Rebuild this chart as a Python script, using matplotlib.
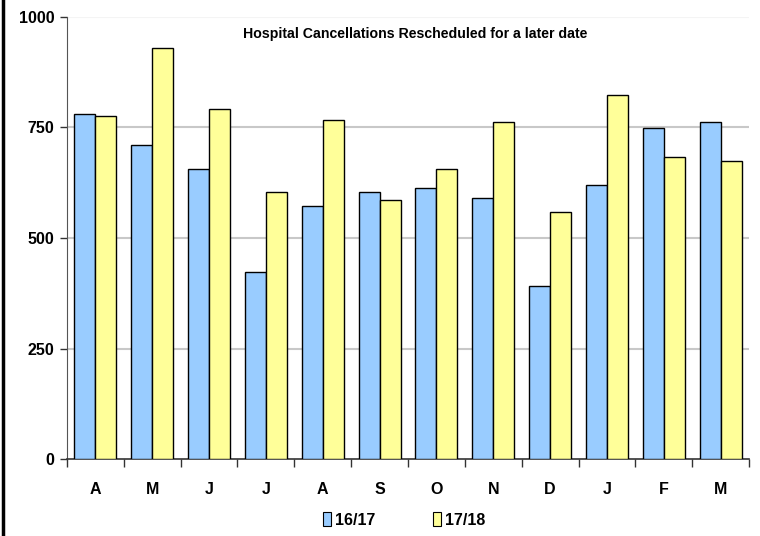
import matplotlib
matplotlib.use("Agg")
import matplotlib.pyplot as plt
import numpy as np
from matplotlib.patches import Patch
from matplotlib.lines import Line2D

months = ["A", "M", "J", "J", "A", "S", "O", "N", "D", "J", "F", "M"]
series_names = ["16/17", "17/18"]
vals_1617 = [781, 711, 655, 423, 572, 604, 614, 590, 391, 619, 749, 762]
vals_1718 = [776, 929, 791, 604, 767, 586, 656, 763, 558, 823, 684, 674]
y_ticks = [0, 250, 500, 750, 1000]

blue = "#99CCFF"
yellow = "#FFFF99"
font = ["Liberation Sans Narrow", "Liberation Sans", "DejaVu Sans"]
plt.rcParams["font.family"] = font
plt.rcParams["font.weight"] = "bold"

W, H = 760, 536
fig = plt.figure(figsize=(W / 100, H / 100), dpi=100)
ax = fig.add_axes([67 / W, (H - 459.3) / H, (749 - 67) / W, (459.3 - 16.7) / H])

x = np.arange(len(months))
bw = 0.37
ax.bar(x - bw / 2, vals_1617, bw, color=blue, edgecolor="black", linewidth=1.0, zorder=3)
ax.bar(x + bw / 2, vals_1718, bw, color=yellow, edgecolor="black", linewidth=1.0, zorder=3)

ax.set_xlim(-0.5, len(months) - 0.5)
ax.set_ylim(0, 1000)
ax.set_yticks(y_ticks)
ax.set_yticklabels([str(v) for v in y_ticks], fontsize=11.5, fontweight="bold")
ax.set_xticks(np.arange(len(months) + 1) - 0.5, minor=False)
ax.set_xticklabels([])
ax.set_xticks(x, minor=True)
ax.set_xticklabels(months, minor=True, fontsize=11.5, fontweight="bold")
ax.tick_params(axis="x", which="major", length=6, width=1, color="#333333", direction="out")
ax.tick_params(axis="x", which="minor", length=0, pad=16)
ax.tick_params(axis="y", length=5, width=1, color="#333333", direction="out", pad=4)

for v in y_ticks[1:]:
    ax.axhline(v, color="#C8C8C8" if v < 1000 else "#F4F4F4", linewidth=1.5, zorder=1)

for s in ["top", "right"]:
    ax.spines[s].set_visible(False)
ax.spines["left"].set_color("#555555")
ax.spines["bottom"].set_color("#333333")
ax.spines["bottom"].set_linewidth(1.2)

ax.text(0.51, 0.96, "Hospital Cancellations Rescheduled for a later date",
        transform=ax.transAxes, ha="center", va="center", fontsize=10.2, fontweight="bold")

handles = [Patch(facecolor=blue, edgecolor="black", linewidth=0.8),
           Patch(facecolor=yellow, edgecolor="black", linewidth=0.8)]
fig.legend(handles, series_names, loc="center", bbox_to_anchor=(404 / W, 1 - 520 / H),
           ncol=2, frameon=False, handlelength=0.5, handleheight=0.9,
           handletextpad=0.25, columnspacing=3.6,
           prop={"family": font, "weight": "bold", "size": 11.5})

# frame line along the left edge
fig.add_artist(Line2D([3 / W, 3 / W], [0, 1], color="black", linewidth=2.5, transform=fig.transFigure))

fig.savefig("out.png", dpi=100)
